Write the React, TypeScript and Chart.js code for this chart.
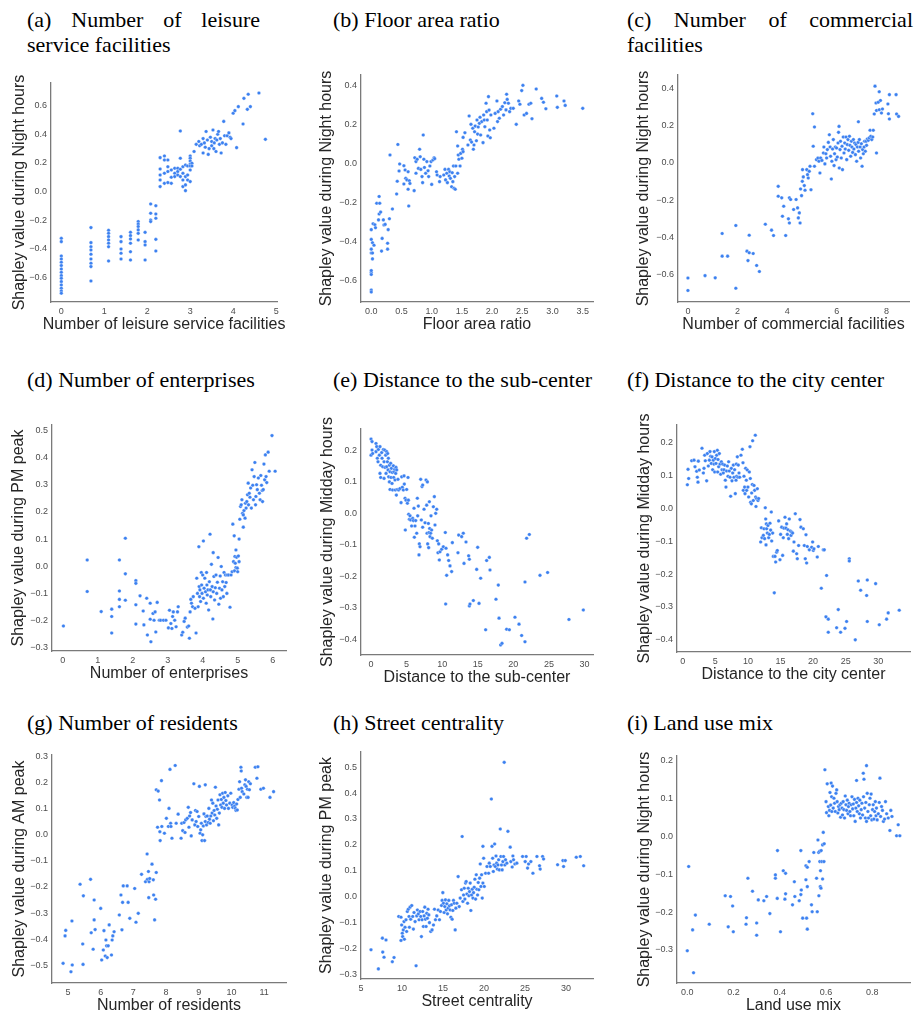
import React, { useEffect, useRef } from 'react';
import { Chart, registerables } from 'chart.js';

Chart.register(...registerables);

type Pt = [number, number];

// ---------- data ----------
const leisurePts: Pt[] = [
  [0,-0.326],[0,-0.349],[0,-0.449],[0,-0.47],[0,-0.493],[0,-0.516],[0,-0.54],[0,-0.563],[0,-0.586],[0,-0.605],[0,-0.628],[0,-0.651],[0,-0.674],[0,-0.693],[0,-0.709],
  [0.69,-0.251],[0.69,-0.356],[0.69,-0.384],[0.69,-0.407],[0.69,-0.437],[0.69,-0.47],[0.69,-0.5],[0.69,-0.523],[0.69,-0.623],
  [1.1,-0.27],[1.1,-0.291],[1.1,-0.314],[1.1,-0.337],[1.1,-0.36],[1.1,-0.384],[1.1,-0.484],
  [1.39,-0.314],[1.39,-0.349],[1.39,-0.4],[1.39,-0.43],[1.39,-0.47],
  [1.61,-0.284],[1.61,-0.307],[1.61,-0.33],[1.61,-0.36],[1.61,-0.419],[1.61,-0.477],
  [1.79,-0.209],[1.79,-0.226],[1.79,-0.244],[1.79,-0.267],[1.79,-0.291],[1.79,-0.337],
  [1.95,-0.284],[1.95,-0.349],[1.95,-0.372],[1.95,-0.477],
  [2.08,-0.086],[2.08,-0.151],[2.08,-0.198],[2.08,-0.209],
  [2.2,-0.098],[2.2,-0.156],[2.2,-0.186],[2.2,-0.333],[2.2,-0.414],
  [2.3,0.237],[2.3,0.158],[2.3,0.116],[2.3,0.081],[2.3,0.035],
  [2.4,0.249],[2.4,0.221],[2.4,0.128],[2.4,0.058],
  [2.48,0.221],[2.48,0.174],[2.48,0.14],[2.48,0.063],
  [2.56,0.151],[2.56,0.1],[2.56,0.058],
  [2.64,0.163],[2.64,0.128],[2.64,0.105],
  [2.71,0.163],[2.71,0.14],[2.71,0.116],
  [2.77,0.423],[2.77,0.233],[2.77,0.156],[2.77,0.105],
  [2.83,0.174],[2.83,0.128],[2.83,0.081],[2.83,0.035],
  [2.89,0.186],[2.89,0.105],[2.89,0.047],[2.89,0.007],
  [2.94,0.179],[2.94,0.116],[2.94,0.081],
  [3.0,0.249],[3.0,0.233],[3.0,0.214],[3.0,0.193],[3.0,0.179],[3.0,0.151],[3.0,0.07],
  [3.04,0.198],[3.04,0.179],
  [3.09,0.28],[3.14,0.33],[3.2,0.35],[3.22,0.32],[3.26,0.33],[3.3,0.37],[3.3,0.27],[3.33,0.34],[3.35,0.31],[3.37,0.42],
  [3.4,0.36],[3.42,0.26],[3.44,0.3],[3.47,0.38],[3.5,0.32],[3.5,0.35],[3.53,0.43],[3.55,0.3],[3.56,0.34],[3.58,0.37],
  [3.6,0.28],[3.62,0.36],[3.64,0.4],[3.66,0.42],[3.68,0.33],[3.7,0.37],[3.72,0.27],[3.75,0.34],[3.78,0.49],[3.8,0.39],
  [3.83,0.33],[3.86,0.39],[3.9,0.41],[3.93,0.38],[3.95,0.37],
  [4.0,0.547],[4.04,0.565],[4.08,0.307],[4.12,0.593],[4.23,0.472],[4.25,0.651],[4.33,0.574],[4.35,0.679],[4.4,0.593],[4.6,0.688],[4.75,0.365],
];

const floorPts: Pt[] = [
  [0,-0.65],[0,-0.66],[0,-0.56],[0,-0.57],[0,-0.55],[0,-0.46],[0,-0.44],[0,-0.39],[0,-0.34],
  [0.02,-0.407],[0.02,-0.46],[0.02,-0.49],[0.03,-0.31],[0.045,-0.42],[0.06,-0.315],[0.07,-0.33],[0.09,-0.205],[0.13,-0.17],[0.14,-0.205],[0.13,-0.26],
  [0.155,-0.25],[0.12,-0.29],[0.17,-0.45],[0.18,-0.385],[0.2,-0.29],[0.21,-0.316],[0.23,-0.313],[0.27,-0.44],[0.27,-0.41],[0.28,-0.34],
  [0.3,-0.284],[0.31,0.043],[0.35,-0.234],
  [0.42,-0.157],[0.44,0.097],[0.43,-0.092],[0.46,-0.039],[0.47,-0.003],[0.54,-0.012],[0.54,-0.106],[0.56,-0.034],[0.57,-0.077],[0.59,-0.085],
  [0.61,-0.133],[0.62,-0.219],[0.61,-0.043],[0.63,-0.089],[0.64,-0.103],[0.71,-0.14],[0.72,0.029],[0.74,0.009],[0.74,-0.051],[0.76,0.021],
  [0.78,-0.026],[0.8,0.072],[0.81,0.034],[0.82,-0.031],[0.84,-0.068],[0.85,-0.099],[0.86,0.145],[0.87,0.021],[0.88,-0.021],[0.9,-0.051],
  [0.92,0.009],[0.94,-0.038],[0.95,-0.068],[0.97,-0.014],[0.99,0.009],[1.0,-0.108],[1.02,0.017],[1.04,0.029],[1.05,0.024],[1.08,-0.043],
  [1.09,-0.06],[1.13,-0.094],[1.14,-0.068],
  [1.2,-0.06],[1.22,-0.031],[1.23,-0.085],[1.25,-0.051],[1.26,-0.099],[1.28,-0.031],[1.29,-0.065],[1.3,-0.043],[1.31,-0.077],[1.33,-0.12],
  [1.34,-0.048],[1.35,-0.094],[1.36,-0.014],[1.37,-0.128],[1.38,-0.068],[1.39,-0.133],[1.4,-0.014],[1.41,0.162],[1.43,0.089],[1.43,-0.051],
  [1.44,0.043],[1.45,0.021],[1.47,-0.014],[1.48,0.051],[1.5,0.026],[1.51,0.072],[1.52,0.06],[1.52,0.133],[1.55,0.157],
  [1.6,0.094],[1.62,0.243],[1.64,0.12],[1.65,0.2],[1.66,0.109],[1.68,0.18],[1.69,0.072],[1.7,0.094],[1.71,0.162],[1.72,0.191],
  [1.74,0.116],[1.75,0.222],[1.76,0.15],[1.77,0.186],[1.79,0.205],[1.8,0.236],[1.81,0.145],[1.83,0.214],[1.85,0.106],[1.86,0.248],
  [1.87,0.222],[1.88,0.188],[1.9,0.308],[1.91,0.265],[1.92,0.222],[1.93,0.14],[1.94,0.342],[1.95,0.273],[1.96,0.171],[1.97,0.131],[1.98,0.248],
  [2.03,0.18],[2.05,0.256],[2.08,0.32],[2.09,0.214],[2.1,0.265],[2.12,0.231],[2.14,0.277],[2.17,0.291],[2.19,0.248],[2.21,0.311],
  [2.23,0.274],[2.24,0.354],[2.25,0.328],[2.27,0.308],[2.29,0.265],[2.31,0.282],[2.35,0.282],[2.4,0.2],[2.44,0.32],[2.46,0.303],
  [2.49,0.373],[2.51,0.4],[2.53,0.248],[2.57,0.256],[2.61,0.303],[2.64,0.308],[2.66,0.229],[2.73,0.381],[2.82,0.333],[2.85,0.313],
  [2.89,0.28],[3.07,0.345],[3.08,0.287],[3.19,0.32],[3.21,0.297],[3.5,0.282],
];

const commercialPts: Pt[] = [
  [0,-0.62],[0,-0.687],[0.69,-0.607],[1.1,-0.619],[1.38,-0.38],[1.38,-0.502],[1.6,-0.502],[1.93,-0.337],[1.93,-0.675],[2.38,-0.475],
  [2.47,-0.389],[2.47,-0.484],[2.42,-0.526],[2.63,-0.488],[2.77,-0.552],[2.88,-0.585],[3.12,-0.33],[3.37,-0.362],[3.45,-0.391],[3.64,-0.126],
  [3.64,-0.179],[3.78,-0.188],[3.81,-0.287],[3.86,-0.233],[3.94,-0.391],[4.05,-0.301],[4.09,-0.188],[4.09,-0.323],[4.14,-0.197],[4.26,-0.251],
  [4.36,-0.197],[4.42,-0.242],[4.45,-0.296],[4.49,-0.269],[4.52,-0.323],[4.54,-0.14],[4.58,-0.176],[4.61,-0.099],[4.62,-0.036],[4.65,-0.075],
  [4.69,-0.122],[4.72,-0.147],[4.79,-0.036],[4.82,-0.063],[4.85,-0.081],[4.89,-0.045],[4.92,-0.018],[4.96,-0.144],[5.03,0.265],[5.05,0.09],
  [5.1,0.194],[5.1,-0.018],[5.18,0.018],[5.24,0.027],[5.28,0.009],[5.32,-0.054],[5.35,0.027],[5.4,0.014],[5.46,0.054],[5.48,0.086],
  [5.52,-0.005],[5.56,0.05],[5.59,0.027],[5.62,0.072],[5.66,0.111],[5.7,0.152],[5.73,0.086],[5.75,0.036],[5.78,-0.086],[5.8,0.009],
  [5.83,0.075],[5.86,0.126],[5.89,-0.014],[5.91,0.05],[5.94,0.086],[5.97,0.018],[5.99,0.081],[6.02,0.032],[6.05,0.108],[6.07,0.165],
  [6.09,0.197],[6.1,-0.027],[6.13,0.072],[6.15,0.117],[6.18,0.027],[6.21,0.09],[6.23,-0.036],[6.26,0.14],[6.29,0.054],[6.32,0.108],
  [6.34,0.075],[6.37,0.14],[6.4,0.018],[6.42,0.099],[6.45,0.126],[6.48,0.068],[6.51,0.144],[6.53,0.095],[6.56,0.036],[6.59,0.117],
  [6.61,0.086],[6.64,0.057],[6.67,0.126],[6.69,0.075],[6.72,0.108],[6.75,0.045],[6.77,0.099],[6.8,0.009],[6.83,0.086],[6.86,0.111],
  [6.87,0.222],[6.88,0.063],[6.91,0.126],[6.94,0.086],[6.96,0.027],[6.99,0.104],[7.02,-0.018],[7.04,0.072],[7.07,0.05],[7.1,0.086],
  [7.12,0.117],[7.15,0.063],[7.18,0.117],[7.2,0.095],[7.23,0.129],[7.27,0.122],[7.31,0.135],[7.34,0.176],[7.37,0.144],[7.41,0.126],
  [7.45,0.14],[7.47,0.176],[7.51,0.264],[7.54,0.414],[7.58,0.323],[7.6,0.283],[7.6,0.054],[7.67,0.327],[7.71,0.384],[7.71,0.287],
  [7.76,0.337],[7.8,0.269],[7.84,0.291],[8.06,0.318],[8.12,0.368],[8.12,0.237],[8.39,0.368],[8.41,0.264],[8.49,0.251],[8.08,0.265],
];

const enterprisePts: Pt[] = [
  [0.02,-0.22],[0.7,0.023],[0.7,-0.093],[1.1,-0.167],[1.4,-0.158],[1.4,-0.185],[1.4,-0.246],[1.62,0.023],[1.62,-0.091],[1.62,-0.122],
  [1.62,-0.149],[1.79,0.103],[1.79,-0.028],[1.79,-0.125],[2.09,-0.053],[2.09,-0.063],[2.09,-0.142],[2.09,-0.213],[2.21,-0.109],[2.3,-0.165],
  [2.32,-0.216],[2.4,-0.118],[2.42,-0.253],[2.5,-0.136],[2.5,-0.195],[2.52,-0.278],[2.58,-0.174],[2.61,-0.199],[2.64,-0.168],[2.66,-0.242],
  [2.7,-0.133],[2.76,-0.199],[2.8,-0.199],[2.88,-0.199],[2.95,-0.199],[3.02,-0.227],[3.05,-0.162],[3.09,-0.211],[3.12,-0.229],[3.14,-0.185],
  [3.16,-0.168],[3.2,-0.199],[3.24,-0.223],[3.28,-0.168],[3.3,-0.149],[3.4,-0.253],[3.43,-0.243],[3.47,-0.203],[3.5,-0.191],[3.56,-0.224],
  [3.6,-0.22],[3.62,-0.265],[3.64,-0.168],[3.66,-0.122],[3.68,-0.136],[3.71,-0.149],[3.73,-0.112],[3.78,-0.155],[3.81,-0.246],[3.83,-0.044],
  [3.85,-0.1],[3.87,-0.149],[3.89,0.072],[3.9,-0.075],[3.91,-0.112],[3.92,-0.087],[3.94,-0.13],[3.96,-0.023],[3.97,-0.069],[3.98,-0.1],
  [4.0,-0.032],[4.02,0.093],[4.02,-0.118],[4.04,-0.081],[4.06,-0.044],[4.08,-0.094],[4.1,-0.136],[4.11,-0.023],[4.12,-0.069],[4.13,-0.106],
  [4.15,-0.087],[4.17,-0.161],[4.19,-0.057],[4.21,0.118],[4.22,-0.087],[4.23,-0.112],[4.25,0.007],[4.27,-0.075],[4.29,-0.194],[4.3,0.05],
  [4.3,-0.094],[4.32,-0.038],[4.34,-0.124],[4.36,-0.079],[4.38,-0.032],[4.4,-0.1],[4.42,-0.059],[4.44,0.032],[4.46,-0.14],[4.48,-0.081],
  [4.5,-0.036],[4.51,-0.118],[4.53,-0.001],[4.55,-0.087],[4.57,-0.057],[4.59,-0.112],[4.61,-0.023],[4.63,-0.075],[4.65,-0.032],[4.67,-0.06],
  [4.69,-0.1],[4.7,-0.032],[4.74,-0.032],[4.78,-0.151],[4.81,-0.032],[4.84,-0.02],[4.86,0.155],[4.88,0.017],[4.9,0.112],[4.91,-0.017],
  [4.92,0.036],[4.93,0.011],[4.95,0.06],[4.95,-0.005],[4.97,0.033],[4.99,-0.007],[5.0,-0.02],[5.02,0.038],[5.04,0.1],[5.04,0.017],
  [5.06,0.173],[5.08,0.22],[5.1,0.226],[5.12,0.245],[5.14,0.195],[5.16,0.189],[5.16,0.144],[5.18,0.205],[5.21,0.177],[5.22,0.232],
  [5.24,0.214],[5.26,0.238],[5.28,0.263],[5.3,0.306],[5.31,0.226],[5.33,0.269],[5.35,0.254],[5.37,0.288],[5.39,0.214],[5.41,0.355],
  [5.43,0.298],[5.45,0.245],[5.47,0.33],[5.49,0.382],[5.51,0.226],[5.52,0.257],[5.54,0.3],[5.56,0.282],[5.59,0.325],[5.62,0.269],
  [5.64,0.245],[5.66,0.334],[5.68,0.298],[5.7,0.279],[5.71,0.238],[5.73,0.282],[5.75,0.376],[5.77,0.318],[5.79,0.41],[5.81,0.33],
  [5.83,0.308],[5.87,0.42],[5.9,0.35],[5.98,0.481],[6.07,0.35],
];

const subCenterPts: Pt[] = [
  [0,0.236],[0.14,0.228],[0.14,0.201],[0,0.185],[0.23,0.19],[0.7,0.222],[0.7,0.196],[0.8,0.212],[0.89,0.175],[0.98,0.164],
  [1.03,0.203],[1.17,0.185],[1.26,0.212],[1.26,0.127],[1.36,0.153],[1.36,0.114],[1.5,0.193],[1.55,0.175],[1.64,0.148],[1.73,0.203],
  [1.83,0.164],[1.83,0.111],[1.92,0.201],[1.97,0.146],[2.06,0.185],[2.11,0.127],[2.2,0.196],[2.2,0.148],[2.3,0.164],[2.34,0.19],
  [2.39,0.138],[2.44,0.175],[2.48,0.116],[2.58,0.153],[2.58,0.1],[2.67,0.132],[2.67,0.076],[2.76,0.159],[2.81,0.114],[2.86,0.143],
  [2.95,0.095],[3.0,0.13],[3.04,0.074],[3.14,0.151],[3.19,0.114],[3.23,0.132],[3.33,0.14],[3.37,0.106],[3.42,0.074],[3.47,0.127],
  [3.51,0.146],[3.56,0.058],[3.61,0.138],[3.7,0.076],[3.79,0.108],[3.89,0.074],[4.07,0.079],[4.22,0.034],[4.31,0.116],[4.4,0.083],
  [4.54,0.074],[4.64,0.119],[4.68,0.093],[4.78,0.048],[4.82,-0.053],[4.92,0.042],[5.01,0.076],[5.11,0.032],[5.2,0.114],[5.25,0.042],
  [5.29,-0.003],[5.39,-0.019],[5.48,-0.008],[5.57,-0.021],[5.71,-0.04],[5.86,-0.016],[5.95,-0.023],[6.04,0.016],[6.09,-0.076],[6.18,-0.04],
  [6.28,-0.023],[6.42,-0.063],[6.51,0.048],[6.56,-0.008],[6.65,0.023],[6.74,-0.132],[6.79,-0.097],[6.89,-0.106],[6.98,0.108],[7.07,-0.021],
  [7.17,0.085],[7.26,-0.044],[7.26,0.09],[7.45,0.013],[7.59,-0.03],[7.73,0.106],[7.82,0.026],[7.87,-0.063],[7.92,0.1],[7.96,-0.097],
  [8.06,-0.032],[8.1,-0.109],[8.15,-0.061],[8.2,0.037],[8.24,-0.048],[8.29,-0.074],[8.38,-0.063],[8.43,-0.008],[8.52,-0.053],[8.62,-0.079],
  [8.76,0.021],[8.9,0.053],[8.99,-0.037],[9.09,0.0],[9.23,0.013],[9.32,-0.087],[9.41,-0.125],[9.51,-0.097],[9.6,-0.148],[9.7,-0.122],
  [9.93,-0.114],[10.16,-0.106],[10.44,-0.061],[10.49,-0.288],[10.54,-0.111],[10.63,-0.197],[10.77,-0.132],[10.91,-0.15],[11.1,-0.167],[11.33,-0.185],
  [11.43,-0.093],[12.22,-0.125],[12.32,-0.069],[12.74,-0.074],[12.97,-0.063],[13.07,-0.159],[13.35,-0.091],[13.72,-0.135],[13.82,-0.146],[13.82,-0.294],
  [13.91,-0.288],[14.38,-0.277],[14.85,-0.178],[14.99,-0.108],[15.18,-0.286],[15.41,-0.206],[16.11,-0.37],[16.25,-0.15],[16.63,-0.14],[16.72,-0.18],
  [17.56,-0.273],[17.89,-0.228],[17.99,-0.333],[18.22,-0.418],[18.41,-0.413],[19.06,-0.368],[19.44,-0.37],[20.23,-0.33],[20.8,-0.352],[21.17,-0.388],
  [21.64,-0.408],[21.64,-0.218],[21.87,-0.079],[22.25,-0.067],[23.75,-0.197],[24.82,-0.188],[27.82,-0.337],[29.84,-0.307],
];

const cityCenterPts: Pt[] = [
  [0.72,0.072],[0.82,0.119],[0.92,0.091],[1.38,0.145],[1.74,0.147],[1.89,0.127],[2.15,0.113],[2.25,0.095],[2.35,0.08],[2.4,0.144],
  [2.55,0.117],[2.96,0.183],[3.17,0.108],[3.27,0.122],[3.37,0.162],[3.47,0.145],[3.68,0.084],[3.78,0.167],[3.93,0.129],[4.09,0.147],
  [4.19,0.173],[4.29,0.159],[4.39,0.137],[4.5,0.157],[4.6,0.118],[4.7,0.147],[4.8,0.135],[4.85,0.173],[4.91,0.111],[5.01,0.152],
  [5.11,0.137],[5.21,0.162],[5.32,0.177],[5.37,0.111],[5.42,0.149],[5.52,0.127],[5.62,0.167],[5.72,0.135],[5.83,0.104],[5.93,0.142],
  [6.03,0.118],[6.13,0.135],[6.23,0.108],[6.34,0.118],[6.44,0.132],[6.54,0.086],[6.64,0.065],[6.74,0.114],[6.85,0.129],[6.95,0.098],
  [7.05,0.142],[7.15,0.114],[7.26,0.095],[7.36,0.037],[7.46,0.122],[7.56,0.084],[7.67,0.108],[7.77,0.132],[7.87,0.095],[7.97,0.118],
  [8.07,0.045],[8.18,0.086],[8.23,0.135],[8.28,0.098],[8.38,0.157],[8.48,0.095],[8.53,0.132],[8.64,0.108],[8.74,0.095],[8.94,0.162],
  [9.15,0.18],[9.25,0.139],[9.3,0.055],[9.4,0.098],[9.5,0.065],[9.56,0.045],[9.66,0.122],[9.76,0.086],[9.81,0.055],[9.91,0.117],
  [10.01,0.065],[10.12,0.035],[10.22,0.111],[10.32,0.188],[10.37,0.091],[10.42,0.019],[10.53,0.014],[10.58,0.047],[10.68,0.073],[10.73,0.206],
  [10.83,0.024],[10.94,0.07],[11.04,0.055],[11.14,0.223],[11.19,0.035],[11.24,0.006],[11.34,0.03],[11.45,0.06],[11.55,0.024],[11.65,0.03],
  [11.96,-0.102],[12.06,-0.059],[12.16,-0.089],[12.37,-0.082],[12.47,-0.062],[12.57,-0.092],[12.67,0.002],[12.73,-0.032],[12.78,-0.111],[12.83,-0.047],
  [12.88,-0.062],[12.98,-0.075],[13.08,-0.052],[13.19,-0.089],[13.29,-0.079],[13.39,-0.045],[13.49,-0.066],[13.59,-0.011],[13.65,-0.099],[13.8,-0.075],
  [13.9,-0.146],[14.05,-0.257],[14.16,-0.146],[14.26,-0.163],[14.41,-0.133],[14.51,-0.128],[14.72,-0.038],[14.92,-0.156],[15.02,-0.079],[15.18,-0.057],
  [15.33,-0.143],[15.43,-0.089],[15.53,-0.06],[15.69,-0.027],[15.84,-0.06],[15.94,-0.047],[16.05,-0.079],[16.15,-0.065],[16.25,-0.092],[16.35,-0.032],
  [16.51,-0.069],[16.61,-0.082],[16.71,-0.072],[16.86,-0.075],[16.97,-0.13],[17.07,-0.102],[17.27,-0.016],[17.48,-0.138],[17.58,-0.153],[17.78,-0.113],
  [17.99,-0.034],[18.14,-0.057],[18.5,-0.062],[18.65,-0.113],[18.8,-0.153],[18.91,-0.08],[19.01,-0.166],[19.11,-0.116],[19.42,-0.126],[19.78,-0.118],
  [19.93,-0.102],[20.03,-0.128],[20.13,-0.123],[20.64,-0.148],[20.8,-0.116],[21.56,-0.126],[21.72,-0.126],[22.07,-0.204],[21.26,-0.243],[21.97,-0.33],
  [22.33,-0.337],[22.33,-0.377],[23.86,-0.308],[23.61,-0.363],[24.22,-0.377],[24.89,-0.365],[25.14,-0.344],[25.55,-0.153],[25.55,-0.16],[26.47,-0.4],
  [26.93,-0.221],[27.29,-0.249],[28.21,-0.265],[28.31,-0.218],[28.31,-0.344],[29.59,-0.229],[30.15,-0.354],[31.27,-0.337],[31.52,-0.318],[33.21,-0.31],
];

const residentPts: Pt[] = [
  [4.85,-0.492],[4.91,-0.387],[4.93,-0.366],[5.09,-0.524],[5.13,-0.498],[5.12,-0.33],[5.37,-0.19],[5.45,-0.418],[5.46,-0.496],[5.47,-0.234],
  [5.69,-0.171],[5.71,-0.375],[5.77,-0.438],[5.8,-0.25],[5.8,-0.326],[5.83,-0.363],[6.0,-0.282],[6.03,-0.479],[6.08,-0.441],[6.1,-0.367],
  [6.14,-0.464],[6.16,-0.403],[6.18,-0.425],[6.2,-0.47],[6.23,-0.425],[6.26,-0.345],[6.33,-0.46],[6.35,-0.403],[6.37,-0.387],[6.41,-0.371],
  [6.57,-0.307],[6.62,-0.231],[6.65,-0.364],[6.67,-0.259],[6.69,-0.196],[6.81,-0.196],[6.84,-0.259],[6.89,-0.32],[7.04,-0.206],[7.08,-0.335],
  [7.15,-0.301],[7.25,-0.152],[7.37,-0.18],[7.42,-0.074],[7.43,-0.171],[7.46,-0.141],[7.47,-0.241],[7.48,-0.18],[7.5,-0.168],[7.57,-0.113],
  [7.61,-0.173],[7.62,-0.231],[7.65,-0.326],[7.68,-0.247],[7.7,-0.145],[7.7,0.171],[7.74,0.028],[7.76,0.166],[7.8,0.132],[7.81,0.011],
  [7.82,-0.023],[7.86,0.206],[7.87,0.031],[7.95,0.005],[8.01,0.062],[8.07,0.031],[8.09,0.1],[8.12,0.249],[8.14,0.043],[8.15,0.031],
  [8.18,-0.014],[8.28,0.264],[8.31,0.043],[8.37,0.078],[8.46,-0.014],[8.48,0.043],[8.51,0.015],[8.55,0.046],[8.58,0.008],[8.6,0.056],
  [8.65,0.062],[8.68,0.104],[8.7,0.028],[8.72,0.071],[8.75,0.084],[8.77,-0.005],[8.8,0.056],[8.85,0.194],[8.88,0.037],[8.9,0.092],
  [8.92,0.05],[8.95,0.088],[8.97,0.031],[9.0,0.069],[9.02,0.184],[9.04,0.005],[9.06,0.018],[9.08,0.043],[9.1,-0.023],[9.12,-0.001],
  [9.14,0.033],[9.16,0.079],[9.18,-0.023],[9.2,0.19],[9.2,0.05],[9.22,0.069],[9.24,0.037],[9.26,0.071],[9.29,0.046],[9.31,0.1],
  [9.33,0.059],[9.35,0.043],[9.37,0.071],[9.39,0.132],[9.41,0.082],[9.43,0.12],[9.45,0.053],[9.47,0.092],[9.49,0.075],[9.51,0.181],
  [9.53,0.109],[9.55,0.062],[9.57,0.097],[9.59,0.132],[9.61,0.037],[9.63,0.082],[9.65,0.152],[9.67,0.113],[9.69,0.134],[9.71,0.104],
  [9.73,0.158],[9.75,0.12],[9.77,0.142],[9.79,0.1],[9.81,0.161],[9.83,0.13],[9.85,0.113],[9.89,0.148],[9.91,0.1],[9.95,0.12],
  [9.98,0.158],[10.02,0.113],[10.04,0.104],[10.07,0.122],[10.1,0.109],[10.12,0.1],[10.14,0.092],[10.16,0.117],[10.18,0.094],[10.2,0.134],
  [10.23,0.173],[10.25,0.202],[10.27,0.142],[10.29,0.257],[10.3,0.243],[10.31,0.177],[10.33,0.164],[10.38,0.155],[10.41,0.19],[10.43,0.209],
  [10.45,0.184],[10.47,0.142],[10.49,0.173],[10.51,0.142],[10.53,0.202],[10.55,0.171],[10.58,0.194],[10.73,0.257],[10.78,0.215],[10.81,0.259],
  [10.9,0.173],[10.98,0.177],[11.18,0.142],[11.29,0.164],
];

const streetPts: Pt[] = [
  [6.22,-0.206],[7.12,-0.28],[7.61,-0.161],[7.65,-0.215],[7.81,-0.235],[8.05,-0.168],[8.82,-0.252],[9.03,-0.236],[9.6,-0.077],[9.88,-0.08],
  [9.88,-0.17],[9.96,-0.11],[10.04,-0.142],[10.08,-0.155],[10.16,-0.129],[10.25,-0.097],[10.29,-0.165],[10.37,-0.119],[10.49,-0.09],[10.57,-0.135],
  [10.65,-0.058],[10.77,-0.049],[10.86,-0.077],[10.9,-0.119],[10.98,-0.041],[11.06,-0.088],[11.19,-0.035],[11.31,-0.077],[11.39,-0.126],[11.47,-0.062],
  [11.6,-0.097],[11.72,-0.268],[11.8,-0.075],[11.88,-0.052],[12.0,-0.067],[12.08,-0.09],[12.21,-0.058],[12.29,-0.077],[12.37,-0.155],[12.45,-0.09],
  [12.53,-0.058],[12.61,-0.116],[12.7,-0.075],[12.78,-0.041],[12.86,-0.088],[12.94,-0.116],[13.02,-0.065],[13.1,-0.084],[13.18,-0.049],[13.27,-0.071],
  [13.35,-0.101],[13.51,-0.135],[13.67,-0.129],[13.84,-0.11],[13.96,-0.049],[14.08,-0.09],[14.24,-0.075],[14.41,-0.052],[14.57,-0.09],[14.69,-0.058],
  [14.82,-0.035],[14.9,-0.015],[14.98,0.015],[15.06,-0.026],[15.14,-0.062],[15.22,-0.039],[15.3,-0.013],[15.39,-0.052],[15.47,-0.028],[15.55,-0.067],
  [15.63,-0.045],[15.71,-0.015],[15.79,-0.036],[15.87,-0.052],[15.96,-0.08],[16.04,-0.032],[16.12,-0.088],[16.2,-0.054],[16.28,-0.015],[16.37,-0.026],
  [16.49,-0.129],[16.57,-0.045],[16.69,-0.026],[16.85,0.077],[16.98,-0.039],[17.1,-0.006],[17.26,0.026],[17.34,0.232],[17.43,-0.019],[17.51,0.006],
  [17.59,0.032],[17.67,-0.01],[17.75,0.052],[17.83,0.058],[17.92,0.01],[18.0,-0.026],[18.08,0.032],[18.16,0.003],[18.24,0.019],[18.32,0.052],
  [18.4,-0.054],[18.49,0.006],[18.57,0.028],[18.65,-0.006],[18.73,0.015],[18.81,0.036],[18.89,0.067],[18.98,-0.01],[19.06,0.084],[19.14,0.028],
  [19.22,0.006],[19.3,0.054],[19.38,0.026],[19.47,0.071],[19.55,0.126],[19.63,0.039],[19.71,0.084],[19.79,-0.006],[19.87,0.194],[19.87,0.052],
  [19.96,0.148],[20.04,0.039],[20.2,0.09],[20.37,0.116],[20.57,0.09],[20.65,0.129],[20.77,0.116],[20.9,0.377],[20.98,0.194],[21.06,0.148],
  [21.14,0.097],[21.22,0.122],[21.3,0.203],[21.38,0.116],[21.47,0.157],[21.55,0.129],[21.63,0.106],[21.71,0.122],[21.79,0.142],[21.87,0.103],
  [21.99,0.261],[22.06,0.155],[22.14,0.122],[22.22,0.103],[22.31,0.135],[22.39,0.155],[22.47,0.519],[22.55,0.122],[22.63,0.142],[22.79,0.129],
  [22.92,0.252],[23.2,0.191],[23.28,0.135],[23.44,0.114],[23.53,0.157],[23.61,0.142],[23.77,0.126],[24.01,0.129],[24.71,0.155],[25.03,0.135],
  [25.15,0.155],[25.32,0.11],[25.44,0.126],[25.72,0.135],[25.97,0.09],[26.46,0.155],[26.78,0.119],[26.86,0.106],[27.15,0.155],[27.27,0.145],
  [28.98,0.123],[29.63,0.139],[29.71,0.116],[29.92,0.139],[31.26,0.152],[31.75,0.155],[32.16,0.119],
];

const landMixPts: Pt[] = [
  [0,-0.302],[0.006,-0.08],[0.023,-0.247],[0.027,-0.36],[0.035,-0.208],[0.095,-0.232],[0.164,-0.157],[0.177,-0.239],[0.187,-0.159],[0.196,-0.184],
  [0.199,-0.252],[0.254,-0.232],[0.256,-0.215],[0.262,-0.111],[0.282,-0.145],[0.3,-0.261],[0.3,-0.229],[0.307,-0.168],[0.331,-0.17],[0.343,-0.159],
  [0.357,-0.204],[0.381,-0.111],[0.381,-0.102],[0.39,-0.038],[0.389,-0.164],[0.403,-0.252],[0.415,-0.091],[0.422,-0.166],[0.425,-0.098],[0.425,-0.152],
  [0.455,-0.181],[0.463,-0.12],[0.465,-0.159],[0.484,-0.17],[0.491,-0.038],[0.491,-0.154],[0.493,-0.142],[0.499,-0.216],[0.513,-0.078],[0.513,-0.115],
  [0.516,-0.216],[0.519,-0.082],[0.519,-0.133],[0.519,-0.245],[0.527,-0.067],[0.537,-0.181],[0.54,-0.199],[0.547,-0.043],[0.559,-0.111],[0.562,-0.199],
  [0.565,-0.01],[0.568,-0.043],[0.569,-0.157],[0.572,-0.04],[0.573,-0.067],[0.575,-0.133],[0.576,-0.091],[0.578,-0.137],[0.579,-0.038],[0.582,-0.067],
  [0.585,-0.023],[0.585,-0.113],[0.588,0.01],[0.591,-0.067],[0.592,-0.02],[0.595,0.175],[0.6,0.091],[0.602,0.062],[0.605,0.138],[0.61,0.078],
  [0.612,0.054],[0.615,0.068],[0.617,0.115],[0.62,0.082],[0.622,0.14],[0.624,0.104],[0.625,0.065],[0.628,0.132],[0.631,0.074],[0.634,0.1],
  [0.637,0.087],[0.64,0.065],[0.643,0.113],[0.646,0.122],[0.648,0.091],[0.651,0.061],[0.654,0.078],[0.657,0.07],[0.66,0.083],[0.663,0.05],
  [0.666,0.087],[0.669,0.074],[0.671,0.056],[0.674,0.091],[0.677,0.07],[0.68,0.048],[0.683,0.106],[0.686,0.083],[0.689,0.068],[0.692,0.095],
  [0.695,0.059],[0.697,0.078],[0.7,0.087],[0.703,0.065],[0.706,0.054],[0.709,0.083],[0.712,0.104],[0.715,0.072],[0.718,0.085],[0.72,0.054],
  [0.723,0.097],[0.726,0.039],[0.729,0.074],[0.732,0.147],[0.732,0.089],[0.735,0.065],[0.738,0.1],[0.741,0.08],[0.744,0.059],[0.746,0.095],
  [0.749,0.048],[0.752,0.07],[0.755,0.087],[0.758,0.056],[0.761,0.166],[0.762,0.104],[0.764,0.15],[0.767,0.074],[0.77,0.048],[0.772,0.089],
  [0.775,0.186],[0.775,0.039],[0.778,0.113],[0.781,0.065],[0.784,0.048],[0.787,0.083],[0.79,0.1],[0.793,0.054],[0.795,0.111],[0.798,0.043],
  [0.801,0.07],[0.804,0.083],[0.807,0.045],[0.81,0.065],[0.813,0.091],[0.816,0.054],[0.818,0.074],[0.821,0.043],[0.826,0.059],[0.83,0.089],
  [0.833,0.153],[0.836,0.052],[0.84,0.078],[0.844,0.068],[0.848,0.039],[0.853,0.045],[0.857,0.091],[0.862,0.059],[0.869,0.048],[0.876,0.015],
  [0.88,0.068],[0.885,0.052],[0.905,0.001],[0.912,0.03],[0.919,0.001],
];

// tick values
const ticksA_X = [0, 1, 2, 3, 4, 5];
const ticksA_Y = [-0.6, -0.4, -0.2, 0, 0.2, 0.4, 0.6];
const ticksB_X = [0, 0.5, 1, 1.5, 2, 2.5, 3, 3.5];
const ticksB_Y = [-0.6, -0.4, -0.2, 0, 0.2, 0.4];
const ticksC_X = [0, 2, 4, 6, 8];
const ticksC_Y = [-0.6, -0.4, -0.2, 0, 0.2, 0.4];
const ticksD_X = [0, 1, 2, 3, 4, 5, 6];
const ticksD_Y = [-0.3, -0.2, -0.1, 0, 0.1, 0.2, 0.3, 0.4, 0.5];
const ticksE_X = [0, 5, 10, 15, 20, 25, 30];
const ticksE_Y = [-0.4, -0.3, -0.2, -0.1, 0, 0.1, 0.2];
const ticksF_X = [0, 5, 10, 15, 20, 25, 30];
const ticksF_Y = [-0.4, -0.3, -0.2, -0.1, 0, 0.1, 0.2];
const ticksG_X = [5, 6, 7, 8, 9, 10, 11];
const ticksG_Y = [-0.5, -0.4, -0.3, -0.2, -0.1, 0, 0.1, 0.2, 0.3];
const ticksH_X = [5, 10, 15, 20, 25, 30];
const ticksH_Y = [-0.3, -0.2, -0.1, 0, 0.1, 0.2, 0.3, 0.4, 0.5];
const ticksI_X = [0, 0.2, 0.4, 0.6, 0.8];
const ticksI_Y = [-0.3, -0.2, -0.1, 0, 0.1, 0.2];

// ---------- layout / style ----------
const SERIF = '"Liberation Serif", "Times New Roman", Times, serif';
const SANS = '"Liberation Sans", Arial, Helvetica, sans-serif';
const DOT = '#3b80f0';
const AXIS = '#7a7a7a';
const AXW = 50; // space left of plot inside canvas
const AXH = 45; // space below plot inside canvas
const PADT = 22;
const PADR = 10;

interface Spec {
  id: string;
  pts: Pt[];
  title: string;
  titleBox: [number, number, number]; // left, top, width
  xTitle: string;
  yTitle: string;
  box: [number, number, number, number]; // plot l, t, r, b (page px)
  xr: [number, number];
  yr: [number, number];
  xt: number[];
  yt: number[];
  xd: number;
  yd: number;
  yGap: number;
}

const specs: Spec[] = [
  { id: 'a', pts: leisurePts, title: '(a) Number of leisure service facilities', titleBox: [27, 6.5, 233],
    xTitle: 'Number of leisure service facilities', yTitle: 'Shapley value during Night hours',
    box: [51, 83, 277, 302], xr: [-0.24, 5.02], yr: [-0.77, 0.758], xt: ticksA_X, yt: ticksA_Y, xd: 0, yd: 1, yGap: 31.5 },
  { id: 'b', pts: floorPts, title: '(b) Floor area ratio', titleBox: [333, 6.5, 280],
    xTitle: 'Floor area ratio', yTitle: 'Shapley value during Night hours',
    box: [361, 75, 593, 302], xr: [-0.17, 3.67], yr: [-0.711, 0.453], xt: ticksB_X, yt: ticksB_Y, xd: 1, yd: 1, yGap: 34 },
  { id: 'c', pts: commercialPts, title: '(c) Number of commercial facilities', titleBox: [627, 6.5, 286],
    xTitle: 'Number of commercial facilities', yTitle: 'Shapley value during Night hours',
    box: [678, 75, 909, 302], xr: [-0.4, 8.91], yr: [-0.749, 0.474], xt: ticksC_X, yt: ticksC_Y, xd: 0, yd: 1, yGap: 34 },
  { id: 'd', pts: enterprisePts, title: '(d) Number of enterprises', titleBox: [27, 366.5, 280],
    xTitle: 'Number of enterprises', yTitle: 'Shapley value during PM peak',
    box: [52, 425, 286, 651], xr: [-0.306, 6.38], yr: [-0.312, 0.52], xt: ticksD_X, yt: ticksD_Y, xd: 0, yd: 1, yGap: 33.5 },
  { id: 'e', pts: subCenterPts, title: '(e) Distance to the sub-center', titleBox: [333, 366.5, 280],
    xTitle: 'Distance to the sub-center', yTitle: 'Shapley value during Midday hours',
    box: [361, 429, 593, 655], xr: [-1.41, 31.2], yr: [-0.45, 0.268], xt: ticksE_X, yt: ticksE_Y, xd: 0, yd: 1, yGap: 33.5 },
  { id: 'f', pts: cityCenterPts, title: '(f) Distance to the city center', titleBox: [627, 366.5, 290],
    xTitle: 'Distance to the city center', yTitle: 'Shapley value during Midday hours',
    box: [677, 425, 910, 652], xr: [-0.87, 34.86], yr: [-0.437, 0.254], xt: ticksF_X, yt: ticksF_Y, xd: 0, yd: 1, yGap: 32 },
  { id: 'g', pts: residentPts, title: '(g) Number of residents', titleBox: [27, 709.5, 280],
    xTitle: 'Number of residents', yTitle: 'Shapley value during AM peak',
    box: [52, 755, 286, 983], xr: [4.51, 11.67], yr: [-0.567, 0.304], xt: ticksG_X, yt: ticksG_Y, xd: 0, yd: 1, yGap: 32.5 },
  { id: 'h', pts: streetPts, title: '(h) Street centrality', titleBox: [333, 709.5, 280],
    xTitle: 'Street centrality', yTitle: 'Shapley value during PM peak',
    box: [361, 752, 593, 979], xr: [5.0, 33.3], yr: [-0.319, 0.559], xt: ticksH_X, yt: ticksH_Y, xd: 0, yd: 1, yGap: 34.5 },
  { id: 'i', pts: landMixPts, title: '(i) Land use mix', titleBox: [627, 709.5, 280],
    xTitle: 'Land use mix', yTitle: 'Shapley value during Night hours',
    box: [677, 756, 910, 983], xr: [-0.0445, 0.963], yr: [-0.387, 0.2114], xt: ticksI_X, yt: ticksI_Y, xd: 1, yd: 1, yGap: 32 },
];

const fmt = (v: number, d: number) => {
  const s = (Math.abs(v) < 1e-9 ? 0 : v).toFixed(d);
  return s.replace('-', '\u2212');
};

const axisTitlePlugin = {
  id: 'axisTitles',
  afterDraw(chart: any, _args: any, opts: any) {
    const { ctx, chartArea } = chart;
    ctx.save();
    ctx.fillStyle = '#262626';
    ctx.font = `16px ${SANS}`;
    ctx.textAlign = 'center';
    ctx.textBaseline = 'middle';
    ctx.fillText(opts.xTitle, (chartArea.left + chartArea.right) / 2, chartArea.bottom + 23);
    ctx.translate(chartArea.left - opts.yGap, (chartArea.top + chartArea.bottom) / 2);
    ctx.rotate(-Math.PI / 2);
    ctx.fillText(opts.yTitle, 0, 0);
    ctx.restore();
  },
};

function Panel({ spec }: { spec: Spec }) {
  const ref = useRef<HTMLCanvasElement>(null);
  const [l, t, r, b] = spec.box;
  const W = r - l + AXW + PADR;
  const H = b - t + PADT + AXH;

  useEffect(() => {
    if (!ref.current) return;
    const tickFont = { size: 9, family: SANS };
    const chart = new Chart(ref.current, {
      type: 'scatter',
      data: {
        datasets: [
          {
            data: spec.pts.map(([x, y]) => ({ x, y })),
            pointBackgroundColor: DOT,
            pointBorderColor: 'rgba(255,255,255,0.8)',
            pointBorderWidth: 0.4,
            pointRadius: 1.8,
          } as any,
        ],
      },
      options: {
        responsive: false,
        animation: false,
        events: [],
        layout: { padding: { top: PADT, right: PADR, left: 0, bottom: 0 } },
        plugins: {
          legend: { display: false },
          tooltip: { enabled: false },
          axisTitles: { xTitle: spec.xTitle, yTitle: spec.yTitle, yGap: spec.yGap },
        } as any,
        scales: {
          x: {
            type: 'linear',
            min: spec.xr[0],
            max: spec.xr[1],
            afterFit: (s: any) => { s.height = AXH; },
            afterBuildTicks: (s: any) => { s.ticks = spec.xt.map((v) => ({ value: v })); },
            grid: { display: false, drawTicks: false },
            border: { display: true, color: AXIS, width: 1.3 },
            ticks: {
              autoSkip: false, maxRotation: 0, minRotation: 0, padding: 4,
              color: '#4d4d4d', font: tickFont,
              callback: (v: any) => fmt(Number(v), spec.xd),
            },
          },
          y: {
            type: 'linear',
            min: spec.yr[0],
            max: spec.yr[1],
            afterFit: (s: any) => { s.width = AXW; },
            afterBuildTicks: (s: any) => { s.ticks = spec.yt.map((v) => ({ value: v })); },
            grid: { display: false, drawTicks: false },
            border: { display: true, color: AXIS, width: 1.3 },
            ticks: {
              autoSkip: false, padding: 4,
              color: '#4d4d4d', font: tickFont,
              callback: (v: any) => fmt(Number(v), spec.yd),
            },
          },
        },
      } as any,
      plugins: [axisTitlePlugin],
    });
    return () => chart.destroy();
  }, [spec]);

  return (
    <>
      <div
        style={{
          position: 'absolute',
          left: spec.titleBox[0],
          top: spec.titleBox[1],
          width: spec.titleBox[2],
          fontFamily: SERIF,
          fontSize: 22,
          lineHeight: '25.6px',
          textAlign: 'justify',
          color: '#000',
          whiteSpace: 'normal',
        }}
      >
        {spec.title}
      </div>
      <canvas
        ref={ref}
        width={W}
        height={H}
        style={{ position: 'absolute', left: l - AXW, top: t - PADT, width: W, height: H }}
      />
    </>
  );
}

export default function App() {
  return (
    <div style={{ position: 'absolute', left: 0, top: 0, width: 921, height: 1014, background: '#fff', overflow: 'hidden' }}>
      {specs.map((s) => (
        <Panel key={s.id} spec={s} />
      ))}
    </div>
  );
}
